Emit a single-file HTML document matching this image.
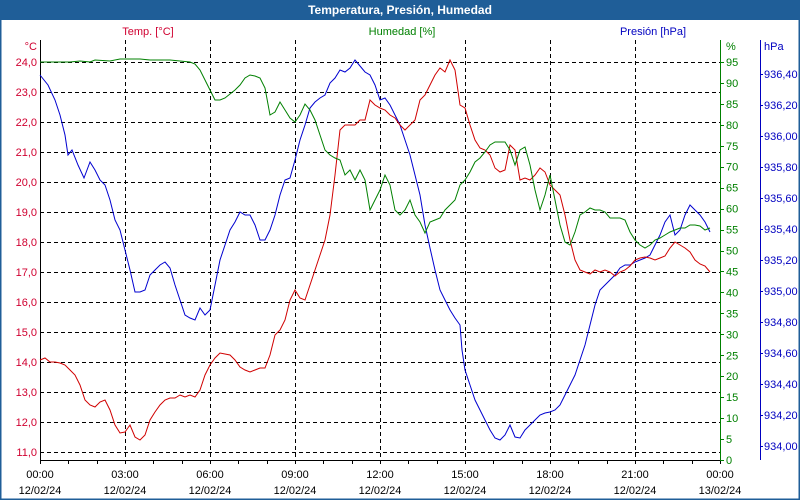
<!DOCTYPE html>
<html><head><meta charset="utf-8"><style>
html,body{margin:0;padding:0;background:#fff}
svg{display:block}
text{font-family:"Liberation Sans","DejaVu Sans",sans-serif;font-size:11px}
</style></head><body>
<svg width="800" height="500" viewBox="0 0 800 500">
<rect x="0" y="0" width="800" height="500" fill="#fff"/>
<rect x="0" y="0" width="800" height="20" fill="#1f5e98"/>
<rect x="0.75" y="0.75" width="798.5" height="498.5" fill="none" stroke="#1f5e98" stroke-width="1.5"/>
<text x="400" y="14" text-anchor="middle" fill="#fff" font-weight="bold" style="font-size:12px">Temperatura, Presión, Humedad</text>
<text x="148" y="35" text-anchor="middle" fill="#d00030">Temp. [°C]</text>
<text x="402" y="35" text-anchor="middle" fill="#008000">Humedad [%]</text>
<text x="653" y="35" text-anchor="middle" fill="#0000c0">Presión [hPa]</text>
<text x="37" y="50" text-anchor="end" fill="#d00030">°C</text>
<text x="726" y="50" fill="#008000">%</text>
<text x="764" y="50" fill="#0000c0">hPa</text>
<g stroke="#000" stroke-dasharray="4,3" stroke-width="1">
<line x1="40" y1="62.5" x2="720" y2="62.5"/><line x1="40" y1="92.5" x2="720" y2="92.5"/><line x1="40" y1="122.5" x2="720" y2="122.5"/><line x1="40" y1="152.5" x2="720" y2="152.5"/><line x1="40" y1="182.5" x2="720" y2="182.5"/><line x1="40" y1="212.5" x2="720" y2="212.5"/><line x1="40" y1="242.5" x2="720" y2="242.5"/><line x1="40" y1="272.5" x2="720" y2="272.5"/><line x1="40" y1="302.5" x2="720" y2="302.5"/><line x1="40" y1="332.5" x2="720" y2="332.5"/><line x1="40" y1="362.5" x2="720" y2="362.5"/><line x1="40" y1="392.5" x2="720" y2="392.5"/><line x1="40" y1="422.5" x2="720" y2="422.5"/><line x1="40" y1="452.5" x2="720" y2="452.5"/>
<line x1="125.5" y1="40" x2="125.5" y2="460"/><line x1="210.5" y1="40" x2="210.5" y2="460"/><line x1="295.5" y1="40" x2="295.5" y2="460"/><line x1="380.5" y1="40" x2="380.5" y2="460"/><line x1="465.5" y1="40" x2="465.5" y2="460"/><line x1="550.5" y1="40" x2="550.5" y2="460"/><line x1="635.5" y1="40" x2="635.5" y2="460"/>
</g>
<line x1="40.5" y1="40" x2="40.5" y2="461" stroke="#000"/>
<line x1="40" y1="460.5" x2="721" y2="460.5" stroke="#000"/>
<line x1="720.5" y1="40" x2="720.5" y2="461" stroke="#008000"/>
<line x1="760.5" y1="40" x2="760.5" y2="460" stroke="#0000c0"/>
<g stroke="#000" id="xt"></g>
<g fill="#d00030" text-anchor="end">
<text x="37" y="66">24,0</text><text x="37" y="96">23,0</text><text x="37" y="126">22,0</text><text x="37" y="156">21,0</text><text x="37" y="186">20,0</text><text x="37" y="216">19,0</text><text x="37" y="246">18,0</text><text x="37" y="276">17,0</text><text x="37" y="306">16,0</text><text x="37" y="336">15,0</text><text x="37" y="366">14,0</text><text x="37" y="396">13,0</text><text x="37" y="426">12,0</text><text x="37" y="456">11,0</text>
</g>
<g id="hum" fill="#008000"></g>
<g id="pres" fill="#0000c0"></g>
<g id="xl" fill="#000" text-anchor="middle"></g>
<polyline fill="none" stroke="#0000d0" stroke-width="1" points="40,75 48,85 55,100 60,115 65,135 68,155 72,150 78,165 84,178 90,162 95,170 100,180 105,185 110,200 115,220 120,230 125,250 130,270 135,292 140,292 145,290 150,275 155,270 160,265 165,262 170,268 175,285 180,300 185,315 190,318 195,320 200,308 205,315 210,310 215,285 220,260 225,245 230,230 235,222 240,212 245,215 250,215 255,225 260,240 265,240 270,230 275,215 280,195 285,180 290,178 295,160 300,140 305,125 310,108 315,102 320,98 325,95 330,83 335,78 340,70 345,72 350,68 355,60 360,66 365,72 370,75 375,85 380,100 385,98 390,105 395,115 400,125 405,140 410,155 415,175 420,195 425,225 430,248 435,270 440,290 445,300 450,310 455,318 460,325 462,350 465,370 470,385 475,400 480,410 485,420 490,430 495,438 500,440 505,435 510,425 515,437 520,438 525,430 530,425 535,420 540,415 545,413 550,412 555,410 560,405 565,395 570,385 575,375 580,360 585,345 590,325 595,305 600,290 605,285 610,280 615,275 620,268 625,265 630,265 635,262 640,260 645,258 650,255 655,245 660,235 665,222 670,215 675,235 680,230 685,215 690,205 695,210 700,215 705,222 710,232"/>
<polyline fill="none" stroke="#d00000" stroke-width="1" points="40,360 45,358 50,362 55,362 60,363 65,365 70,370 75,375 80,385 85,400 90,405 95,407 100,402 105,400 110,410 115,425 120,433 125,432 130,425 135,437 140,440 145,435 150,420 155,412 160,405 165,400 170,398 175,398 180,395 185,397 190,395 195,397 200,390 205,375 210,365 215,358 220,353 225,354 230,355 235,360 240,367 245,370 250,372 255,370 260,368 265,368 270,355 275,335 280,330 285,320 290,300 295,290 300,298 305,300 310,285 315,270 320,255 325,240 330,215 335,175 340,130 345,125 350,125 355,125 360,120 365,120 370,100 375,105 380,108 385,110 390,115 395,118 400,125 405,130 410,125 415,120 420,100 425,95 430,85 435,75 440,68 445,72 450,60 455,70 460,105 465,108 470,125 475,140 480,148 485,150 490,155 495,168 500,172 505,170 510,145 515,150 520,180 525,178 530,180 535,175 540,168 545,172 550,185 555,190 560,195 565,215 570,240 575,260 580,270 585,272 590,274 595,270 600,272 605,270 610,272 615,276 620,272 625,270 630,266 635,260 640,258 645,257 650,258 655,260 660,258 665,256 670,248 675,242 680,245 685,248 690,252 695,260 700,264 705,266 710,272"/>
<polyline fill="none" stroke="#008000" stroke-width="1" points="40,62 50,62 60,62 70,62 80,61 90,62 95,60 110,61 120,59 130,59 140,59 150,60 160,60 170,60 180,61 190,62 195,64 200,70 205,80 210,90 215,100 220,100 225,98 230,94 235,90 240,85 245,78 250,75 255,76 260,78 265,88 270,115 275,112 280,102 285,110 290,118 295,122 300,115 305,104 310,110 315,120 320,135 325,150 330,155 335,158 340,160 345,175 350,170 355,180 360,170 365,180 370,210 375,200 380,190 385,175 390,185 395,210 400,215 405,210 410,200 415,215 420,222 425,233 430,222 435,220 440,218 445,210 450,205 455,200 460,185 465,180 470,172 475,162 480,158 485,152 490,145 495,142 500,142 505,142 510,150 515,165 520,150 525,147 530,165 535,190 540,210 545,195 550,175 555,200 560,225 565,242 570,245 575,232 580,215 585,212 590,208 595,210 600,210 605,212 610,218 615,218 620,218 625,220 630,232 635,240 640,245 645,248 650,245 655,240 660,238 665,235 670,232 675,230 680,228 685,228 690,225 695,225 700,226 705,230 710,228"/>
</svg>
<script>
var ns="http://www.w3.org/2000/svg";
function el(p,t,a,txt){var e=document.createElementNS(ns,t);for(var k in a)e.setAttribute(k,a[k]);if(txt!=null)e.textContent=txt;document.getElementById(p).appendChild(e);}
for(var h=0;h<=24;h++){var x=40+h*680/24;x=Math.round(x)+0.5;el("xt","line",{x1:x,y1:460,x2:x,y2:464});}
var lab=["00:00","03:00","06:00","09:00","12:00","15:00","18:00","21:00","00:00"];
for(var i=0;i<9;i++){var x=40+i*85;el("xl","text",{x:x,y:478},lab[i]);el("xl","text",{x:x,y:494},i==8?"13/02/24":"12/02/24");}
for(var v=0;v<=95;v+=5){var y=460-v*419/100;el("hum","line",{x1:720,y1:Math.round(y)+0.5,x2:724,y2:Math.round(y)+0.5,stroke:"#008000"});el("hum","text",{x:726,y:y+4},String(v));}
for(var j=0;j<=12;j++){var y=446-j*31;var v=(934+j*0.2).toFixed(2).replace(".",",");el("pres","line",{x1:760,y1:y+0.5,x2:763,y2:y+0.5,stroke:"#0000c0"});el("pres","text",{x:764,y:y+4},v);}
</script>
</body></html>
